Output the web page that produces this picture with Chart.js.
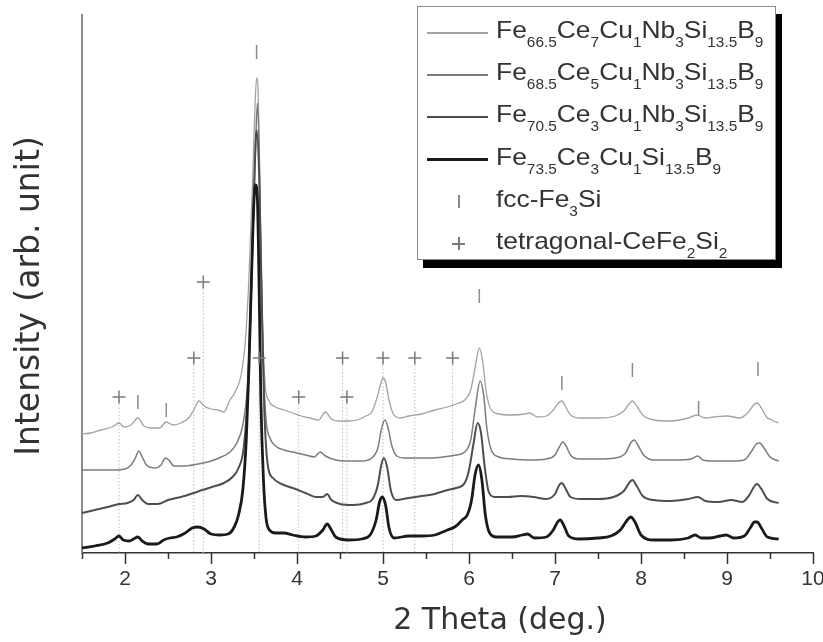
<!DOCTYPE html>
<html>
<head>
<meta charset="utf-8">
<script src="https://cdn.jsdelivr.net/npm/chart.js@4.4.1/dist/chart.umd.min.js"></script>
<style>
  html, body { margin: 0; padding: 0; background: #fff; }
  #wrap { position: relative; width: 823px; height: 642px; }
  #legend {
    position: absolute; left: 417px; top: 6px; width: 359px; height: 254px;
    box-sizing: border-box; border: 1px solid #8a8a8a; background: #fff;
    box-shadow: 6px 8px 0 #000; font-family: "Liberation Sans", Arial, sans-serif; color: #333;
  }
  .row { position: absolute; left: 0; height: 42px; width: 100%; }
  .sw { position: absolute; left: 9px; width: 61px; top: 50%; }
  .txt { position: absolute; left: 78px; top: 50%; transform: translateY(-62%) scaleX(1.1); transform-origin: left center;
         font-size: 24px; white-space: nowrap; line-height: 28px; }
  .txt sub { font-size: 14px; vertical-align: -9px; line-height: 0; }
  .mk { position: absolute; }
</style>
</head>
<body>
<div id="wrap">
  <canvas id="c" width="823" height="642"></canvas>
  <div id="legend"></div>
</div>
<script>
// ---- Data (2θ in degrees, intensity in arb. units) ----
const xTickValues = [2, 3, 4, 5, 6, 7, 8, 9, 10];
const xMinorValues = [1.5, 2.5, 3.5, 4.5, 5.5, 6.5, 7.5, 8.5, 9.5];
const xTitle = '2 Theta (deg.)';
const yTitle = 'Intensity (arb. unit)';

const seriesNames = [
  'Fe_{66.5}Ce_{7}Cu_{1}Nb_{3}Si_{13.5}B_{9}',
  'Fe_{68.5}Ce_{5}Cu_{1}Nb_{3}Si_{13.5}B_{9}',
  'Fe_{70.5}Ce_{3}Cu_{1}Nb_{3}Si_{13.5}B_{9}',
  'Fe_{73.5}Ce_{3}Cu_{1}Si_{13.5}B_{9}'
];
const phaseNames = ['fcc-Fe_{3}Si', 'tetragonal-CeFe_{2}Si_{2}'];

const series1 = [[1.50,119],[1.60,120],[1.72,123],[1.85,126],[1.93,130],[1.99,126],[2.07,128],[2.15,135],[2.22,127],[2.30,125],[2.40,125],[2.48,131],[2.56,128],[2.65,130],[2.74,135],[2.80,143],[2.86,152],[2.92,147],[3.00,144],[3.08,143],[3.15,141],[3.22,153],[3.28,161],[3.35,178],[3.40,213],[3.44,273],[3.48,363],[3.51,443],[3.53,475],[3.55,458],[3.57,353],[3.60,223],[3.63,168],[3.67,153],[3.75,146],[3.85,143],[3.95,140],[4.05,137],[4.15,135],[4.25,133],[4.33,141],[4.40,134],[4.50,132],[4.60,132],[4.70,133],[4.80,137],[4.87,141],[4.93,155],[4.97,168],[5.00,175],[5.03,171],[5.07,153],[5.12,139],[5.20,135],[5.30,137],[5.45,139],[5.60,143],[5.75,146],[5.85,149],[5.95,153],[6.02,163],[6.07,185],[6.12,205],[6.16,191],[6.20,161],[6.26,143],[6.35,139],[6.50,138],[6.65,139],[6.70,140],[6.80,136],[6.90,137],[6.98,143],[7.04,150],[7.08,152],[7.12,147],[7.18,138],[7.30,135],[7.50,135],[7.70,137],[7.80,142],[7.86,149],[7.90,152],[7.95,147],[8.02,138],[8.15,133],[8.35,132],[8.55,135],[8.65,138],[8.75,135],[8.85,136],[9.00,137],[9.15,135],[9.25,141],[9.31,148],[9.35,150],[9.40,145],[9.46,136],[9.52,133],[9.60,130]];

const series2 = [[1.50,83],[1.70,83],[1.85,83],[2.00,84],[2.07,88],[2.12,95],[2.16,102],[2.20,96],[2.25,88],[2.35,85],[2.42,88],[2.47,95],[2.51,93],[2.57,87],[2.70,87],[2.85,89],[3.00,92],[3.12,96],[3.22,101],[3.30,110],[3.37,128],[3.42,163],[3.46,233],[3.49,323],[3.52,413],[3.54,450],[3.56,403],[3.58,293],[3.61,183],[3.64,133],[3.68,116],[3.75,107],[3.85,103],[3.95,101],[4.10,98],[4.20,96],[4.27,101],[4.33,97],[4.45,93],[4.60,92],[4.75,92],[4.87,95],[4.94,105],[4.98,123],[5.02,133],[5.06,125],[5.10,108],[5.16,97],[5.25,95],[5.40,95],[5.55,95],[5.70,96],[5.85,98],[5.95,101],[6.02,113],[6.07,143],[6.13,172],[6.17,158],[6.21,123],[6.26,103],[6.35,96],[6.50,94],[6.70,93],[6.90,94],[7.00,98],[7.05,106],[7.09,111],[7.13,107],[7.18,98],[7.28,94],[7.50,94],[7.70,95],[7.82,100],[7.88,110],[7.92,113],[7.97,107],[8.03,98],[8.15,93],[8.40,93],[8.58,94],[8.66,97],[8.72,93],[8.85,92],[9.05,92],[9.20,93],[9.28,101],[9.34,109],[9.38,110],[9.43,105],[9.50,96],[9.60,92]];

const series3 = [[1.50,40],[1.65,43],[1.80,46],[1.93,49],[2.03,50],[2.10,53],[2.15,58],[2.20,53],[2.27,49],[2.38,49],[2.50,53],[2.65,56],[2.80,60],[2.90,63],[3.05,67],[3.15,70],[3.25,76],[3.32,85],[3.38,105],[3.43,163],[3.47,273],[3.50,363],[3.53,423],[3.56,378],[3.59,253],[3.62,143],[3.66,88],[3.72,75],[3.82,69],[3.95,65],[4.10,60],[4.22,56],[4.30,56],[4.35,59],[4.40,53],[4.50,49],[4.65,48],[4.80,50],[4.88,54],[4.94,68],[4.98,88],[5.01,95],[5.05,85],[5.09,63],[5.15,53],[5.30,55],[5.45,57],[5.60,59],[5.75,63],[5.85,65],[5.95,70],[6.00,83],[6.05,108],[6.10,130],[6.14,120],[6.18,88],[6.23,61],[6.30,56],[6.45,56],[6.60,57],[6.75,56],[6.90,54],[7.00,59],[7.05,68],[7.08,70],[7.12,65],[7.18,56],[7.30,54],[7.50,54],[7.68,56],[7.80,62],[7.87,71],[7.90,73],[7.95,67],[8.02,57],[8.15,53],[8.35,52],[8.55,54],[8.66,56],[8.75,52],[8.90,51],[9.05,53],[9.18,51],[9.26,58],[9.32,67],[9.35,69],[9.40,64],[9.47,54],[9.60,50]];

const series4 = [[1.50,5],[1.65,7],[1.80,10],[1.88,14],[1.93,17],[1.98,13],[2.05,12],[2.10,14],[2.15,16],[2.20,12],[2.27,9],[2.37,9],[2.45,13],[2.52,15],[2.60,16],[2.70,20],[2.78,25],[2.85,26],[2.92,24],[3.00,19],[3.10,18],[3.20,19],[3.27,26],[3.32,38],[3.37,63],[3.41,113],[3.44,183],[3.47,273],[3.50,353],[3.52,368],[3.54,353],[3.56,263],[3.58,153],[3.61,73],[3.64,35],[3.68,23],[3.75,20],[3.85,20],[3.95,18],[4.10,16],[4.22,17],[4.30,23],[4.35,29],[4.40,23],[4.45,16],[4.60,13],[4.75,14],[4.85,18],[4.92,33],[4.96,51],[4.99,56],[5.03,48],[5.07,25],[5.13,15],[5.30,17],[5.45,17],[5.60,18],[5.75,23],[5.85,27],[5.92,33],[5.98,38],[6.03,53],[6.07,78],[6.11,88],[6.15,73],[6.19,38],[6.24,20],[6.32,16],[6.50,16],[6.62,18],[6.68,19],[6.76,15],[6.90,16],[6.98,23],[7.03,31],[7.06,33],[7.10,28],[7.16,17],[7.28,14],[7.50,15],[7.65,17],[7.76,23],[7.84,33],[7.88,36],[7.93,31],[8.00,18],[8.15,13],[8.35,13],[8.55,15],[8.63,18],[8.70,15],[8.80,15],[8.92,17],[8.99,18],[9.08,15],[9.20,17],[9.27,25],[9.32,31],[9.35,31],[9.40,25],[9.47,16],[9.60,14]];

// Phase markers: [2θ, marker height]
const fccMarkers = [[2.15,151],[2.48,143],[3.53,501],[6.12,257],[7.08,170],[7.90,183],[8.67,145],[9.36,184]];
const tetragonalMarkers = [[1.93,156],[2.80,195],[2.91,271],[3.56,195],[4.02,156],[4.53,195],[4.58,156],[5.00,195],[5.37,195],[5.81,195]];

// ---- Styles ----
const lineStyles = [
  { color: '#a3a3a3', width: 1.3 },
  { color: '#7c7c7c', width: 1.5 },
  { color: '#4e4e4e', width: 2 },
  { color: '#1a1a1a', width: 2.8 }
];
const toPts = arr => arr.map(p => ({ x: p[0], y: p[1] }));

const allSeries = [series1, series2, series3, series4];
const datasets = allSeries.map((s, i) => ({
  label: seriesNames[i],
  data: toPts(s),
  borderColor: lineStyles[i].color,
  borderWidth: lineStyles[i].width,
  pointRadius: 0,
  fill: false,
  cubicInterpolationMode: 'monotone',
  order: 4 - i + 1
}));

const dropLines = [];
tetragonalMarkers.forEach(m => { dropLines.push({x: m[0], y: m[1]}, {x: m[0], y: 0}, {x: m[0], y: null}); });
datasets.push({
  label: 'guides', data: dropLines, borderColor: '#bdbdbd', borderWidth: 1,
  borderDash: [1.5, 2], pointRadius: 0, spanGaps: false, order: 20
});
datasets.push({
  label: phaseNames[0], data: toPts(fccMarkers), showLine: false,
  pointStyle: 'line', rotation: 90, pointRadius: 7, borderColor: '#8a8a8a',
  borderWidth: 1.5, backgroundColor: '#8a8a8a', order: 0
});
datasets.push({
  label: phaseNames[1], data: toPts(tetragonalMarkers), showLine: false,
  pointStyle: 'cross', pointRadius: 6.5, borderColor: '#7a7a7a',
  borderWidth: 1.5, backgroundColor: '#7a7a7a', order: 0
});

const axisDecor = {
  id: 'axisDecor',
  afterDraw(chart) {
    const ctx = chart.ctx, xs = chart.scales.x, ca = chart.chartArea, y0 = ca.bottom;
    ctx.save();
    ctx.strokeStyle = '#333'; ctx.lineWidth = 1.5;
    xTickValues.forEach(v => { const px = Math.round(xs.getPixelForValue(v)) + 0.5; ctx.beginPath(); ctx.moveTo(px, y0); ctx.lineTo(px, y0 + 11); ctx.stroke(); });
    xMinorValues.forEach(v => { const px = Math.round(xs.getPixelForValue(v)) + 0.5; ctx.beginPath(); ctx.moveTo(px, y0); ctx.lineTo(px, y0 + 6); ctx.stroke(); });
    // axis titles
    ctx.fillStyle = '#333';
    ctx.textAlign = 'center'; ctx.textBaseline = 'middle';
    ctx.font = '30px "DejaVu Sans"';
    ctx.fillText(xTitle, ca.left + 418, y0 + 68);
    ctx.translate(30, ca.top + 281);
    ctx.rotate(-Math.PI / 2);
    ctx.font = '33px "DejaVu Sans"';
    ctx.fillText(yTitle, 0, 0);
    ctx.restore();
  }
};

const chart = new Chart(document.getElementById('c'), {
  type: 'line',
  data: { datasets },
  options: {
    responsive: false, animation: false, events: [],
    layout: { padding: { top: 15, right: 10, left: 82, bottom: 0 } },
    plugins: { legend: { display: false }, tooltip: { enabled: false } },
    scales: {
      x: {
        type: 'linear', min: 1.5, max: 10, position: 'bottom',
        afterBuildTicks: s => { s.ticks = xTickValues.map(v => ({ value: v })); },
        afterFit: s => { s.height = 89; s.paddingLeft = 0; s.paddingRight = 0; },
        grid: { display: false, drawTicks: false },
        border: { display: true, color: '#333', width: 1.5 },
        ticks: { padding: 14, color: '#333', font: { family: 'Liberation Sans', size: 21 }, maxRotation: 0, autoSkip: false },
        title: { display: false }
      },
      y: {
        type: 'linear', min: 0, max: 538,
        afterFit: s => { s.width = 0; },
        grid: { display: false, drawTicks: false },
        border: { display: true, color: '#8a8a8a', width: 2 },
        ticks: { display: false },
        title: { display: false }
      }
    }
  },
  plugins: [axisDecor]
});

// ---- HTML legend built from the series/phase names and styles ----
const toHTML = s => s.replace(/_\{([^}]*)\}/g, '<sub>$1</sub>');
const legend = document.getElementById('legend');
const rowH = 42.2;
seriesNames.forEach((name, i) => {
  const row = document.createElement('div'); row.className = 'row'; row.style.top = (5 + rowH * i) + 'px';
  const sw = document.createElement('div'); sw.className = 'sw';
  sw.style.height = lineStyles[i].width + 'px'; sw.style.marginTop = (-lineStyles[i].width / 2) + 'px';
  sw.style.background = lineStyles[i].color;
  const t = document.createElement('div'); t.className = 'txt'; t.innerHTML = toHTML(name);
  row.appendChild(sw); row.appendChild(t); legend.appendChild(row);
});
phaseNames.forEach((name, j) => {
  const i = j + 4;
  const row = document.createElement('div'); row.className = 'row'; row.style.top = (5 + rowH * i) + 'px';
  if (j === 0) {
    const m = document.createElement('div'); m.className = 'mk';
    Object.assign(m.style, { left: '40px', top: '14px', width: '1.5px', height: '13px', background: '#8a8a8a' });
    row.appendChild(m);
  } else {
    const a = document.createElement('div'); a.className = 'mk';
    Object.assign(a.style, { left: '40px', top: '14px', width: '1.5px', height: '13px', background: '#7a7a7a' });
    const b = document.createElement('div'); b.className = 'mk';
    Object.assign(b.style, { left: '34px', top: '20px', width: '13px', height: '1.5px', background: '#7a7a7a' });
    row.appendChild(a); row.appendChild(b);
  }
  const t = document.createElement('div'); t.className = 'txt'; t.innerHTML = toHTML(name);
  row.appendChild(t); legend.appendChild(row);
});
</script>
</body>
</html>
